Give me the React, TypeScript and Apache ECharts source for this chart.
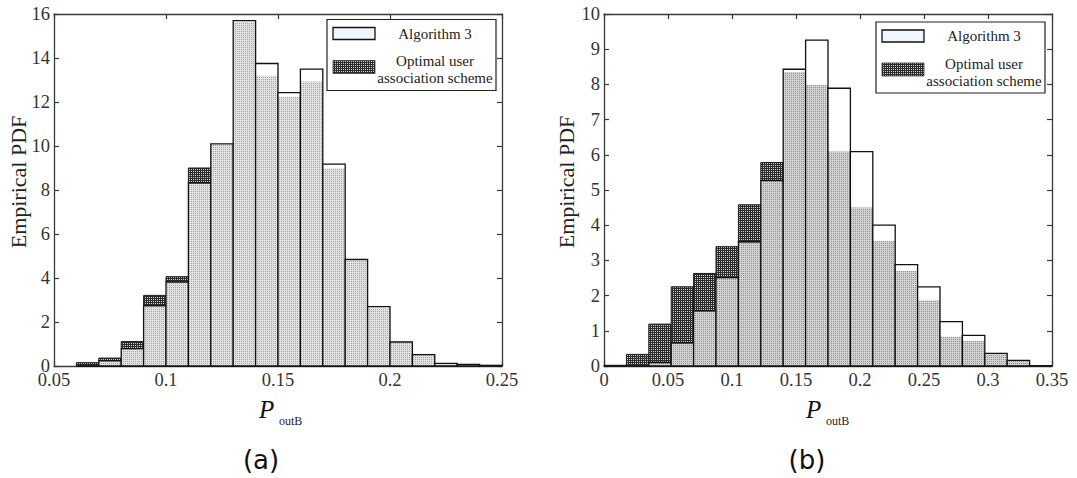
import React, { useEffect, useRef } from "react";
import * as echarts from "echarts";

// Panel (a): bins of width 0.01 starting at 0.06
const binWidthA = 0.01;
const binStartsA = [0.06, 0.07, 0.08, 0.09, 0.1, 0.11, 0.12, 0.13, 0.14, 0.15, 0.16, 0.17, 0.18, 0.19, 0.2, 0.21, 0.22, 0.23, 0.24];
const algorithm3A = [0.0, 0.24, 0.79, 2.74, 3.82, 8.32, 10.1, 15.7, 13.75, 12.43, 13.49, 9.18, 4.84, 2.7, 1.09, 0.52, 0.12, 0.07, 0.03];
const optimalA = [0.15, 0.36, 1.11, 3.21, 4.06, 9.0, 10.05, 15.65, 13.2, 12.23, 12.94, 8.99, 4.78, 2.66, 1.06, 0.5, 0.11, 0.06, 0.02];

// Panel (b): bins of width 0.0175 starting at 0
const binWidthB = 0.0175;
const binStartsB = [0, 0.0175, 0.035, 0.0525, 0.07, 0.0875, 0.105, 0.1225, 0.14, 0.1575, 0.175, 0.1925, 0.21, 0.2275, 0.245, 0.2625, 0.28, 0.2975, 0.315, 0.3325];
const algorithm3B = [0.0, 0.0, 0.1, 0.66, 1.57, 2.51, 3.53, 5.27, 8.43, 9.26, 7.89, 6.09, 4.0, 2.88, 2.25, 1.26, 0.87, 0.36, 0.16, 0.01];
const optimalB = [0.02, 0.33, 1.19, 2.25, 2.63, 3.39, 4.58, 5.78, 8.36, 7.99, 6.1, 4.51, 3.55, 2.7, 1.87, 0.84, 0.71, 0.34, 0.15, 0.01];

const xRangeA = { min: 0.05, max: 0.25, interval: 0.05 };
const yRangeA = { min: 0, max: 16, interval: 2 };
const xRangeB = { min: 0, max: 0.35, interval: 0.05 };
const yRangeB = { min: 0, max: 10, interval: 1 };

const legendLabels = ["Algorithm 3", "Optimal user", "association scheme"];
const yName = "Empirical PDF";

const SERIF = "Liberation Serif";
const AXIS_COLOR = "#3a3a3a";

function makeTile(pixels: string[][]): HTMLCanvasElement {
  const c = document.createElement("canvas");
  c.height = pixels.length;
  c.width = pixels[0].length;
  const ctx = c.getContext("2d")!;
  pixels.forEach((row, j) =>
    row.forEach((col, i) => {
      ctx.fillStyle = col;
      ctx.fillRect(i, j, 1, 1);
    })
  );
  return c;
}

function buildRows(starts: number[], width: number, a: number[], o: number[]) {
  return starts.map((s, i) => [s, s + width, a[i], o[i]]);
}

export default function App() {
  const ref = useRef<HTMLDivElement>(null);

  useEffect(() => {
    if (!ref.current) return;
    const chart = echarts.init(ref.current, undefined, { renderer: "svg" });

    const lightA = { image: makeTile([["#e2e2e2", "#e2e2e2"], ["#e2e2e2", "#a4a4a4"]]), repeat: "repeat" };
    const lightB = { image: makeTile([["#d2d2d2", "#d2d2d2"], ["#d2d2d2", "#909090"]]), repeat: "repeat" };
    const dark = { image: makeTile([["#2c2c2c", "#2c2c2c"], ["#2c2c2c", "#cfcfcf"]]), repeat: "repeat" };

    const makeRender = (light: any) => (_params: any, api: any) => {
      const x0 = api.value(0);
      const x1 = api.value(1);
      const a = api.value(2);
      const o = api.value(3);
      const lo = Math.min(a, o);
      const b0 = api.coord([x0, 0]);
      const b1 = api.coord([x1, 0]);
      const left = b0[0];
      const w = b1[0] - b0[0];
      const y0 = b0[1];
      const yA = api.coord([x0, a])[1];
      const yO = api.coord([x0, o])[1];
      const yLo = api.coord([x0, lo])[1];
      const children: any[] = [];
      if (lo > 0) {
        children.push({ type: "rect", shape: { x: left, y: yLo, width: w, height: y0 - yLo }, style: { fill: light } });
      }
      if (o > a) {
        children.push({
          type: "rect",
          shape: { x: left, y: yO, width: w, height: yA - yO },
          style: { fill: dark, stroke: "#1a1a1a", lineWidth: 1 },
        });
      }
      if (a > o) {
        children.push({ type: "rect", shape: { x: left, y: yA, width: w, height: yO - yA }, style: { fill: "#ffffff" } });
      }
      children.push({
        type: "rect",
        shape: { x: left, y: yA, width: w, height: y0 - yA },
        style: { fill: "none", stroke: "#111111", lineWidth: 1.3 },
      });
      return { type: "group", children };
    };

    const line = { show: true, onZero: false, lineStyle: { color: AXIS_COLOR, width: 1.3 } };
    const tick = { show: true, inside: true, length: 5, lineStyle: { color: AXIS_COLOR, width: 1.2 } };

    const xAxisPair = (grid: number, r: any) => [
      {
        gridIndex: grid,
        type: "value",
        position: "bottom",
        ...r,
        axisLine: line,
        axisTick: tick,
        axisLabel: { fontFamily: SERIF, fontSize: 18.5, lineHeight: 16, color: "#333", margin: 6 },
        splitLine: { show: false },
      },
      {
        gridIndex: grid,
        type: "value",
        position: "top",
        ...r,
        axisLine: line,
        axisTick: tick,
        axisLabel: { show: false },
        splitLine: { show: false },
      },
    ];
    const yAxisPair = (grid: number, r: any) => [
      {
        gridIndex: grid,
        type: "value",
        position: "left",
        ...r,
        axisLine: line,
        axisTick: tick,
        axisLabel: { fontFamily: SERIF, fontSize: 18.5, lineHeight: 12, color: "#333", margin: 4 },
        splitLine: { show: false },
      },
      {
        gridIndex: grid,
        type: "value",
        position: "right",
        ...r,
        axisLine: line,
        axisTick: tick,
        axisLabel: { show: false },
        splitLine: { show: false },
      },
    ];

    const text = (x: number, y: number, t: string, size: number, extra: any = {}, el: any = {}) => ({
      type: "text",
      x,
      y,
      ...el,
      style: { text: t, fontFamily: SERIF, fontSize: size, fill: "#222", align: "center", verticalAlign: "middle", ...extra },
    });

    const legend = (x: number, y: number) => [
      { type: "rect", shape: { x, y, width: 169, height: 71 }, style: { fill: "#fff", stroke: "#222", lineWidth: 1.2 } },
      { type: "rect", shape: { x: x + 6, y: y + 8, width: 42, height: 12 }, style: { fill: "#f0f7fc", stroke: "#111", lineWidth: 1.3 } },
      { type: "rect", shape: { x: x + 6, y: y + 41, width: 42, height: 13 }, style: { fill: dark, stroke: "#333", lineWidth: 0.8 } },
      text(x + 108, y + 14, legendLabels[0], 15),
      text(x + 108, y + 41.5, legendLabels[1], 15),
      text(x + 108, y + 58.5, legendLabels[2], 15),
    ];

    const pLabel = (x: number) => [
      text(x, 409.5, "P", 25, { fontStyle: "italic", align: "left", fill: "#111" }),
      text(x + 20, 420.5, "outB", 12, { align: "left" }),
    ];

    chart.setOption({
      animation: false,
      grid: [
        { left: 54, top: 14, width: 448, height: 352 },
        { left: 604, top: 14, width: 448, height: 352 },
      ],
      xAxis: [...xAxisPair(0, xRangeA), ...xAxisPair(1, xRangeB)],
      yAxis: [...yAxisPair(0, yRangeA), ...yAxisPair(1, yRangeB)],
      series: [
        {
          type: "custom",
          xAxisIndex: 0,
          yAxisIndex: 0,
          data: buildRows(binStartsA, binWidthA, algorithm3A, optimalA),
          renderItem: makeRender(lightA),
          clip: false,
        },
        {
          type: "custom",
          xAxisIndex: 2,
          yAxisIndex: 2,
          data: buildRows(binStartsB, binWidthB, algorithm3B, optimalB),
          renderItem: makeRender(lightB),
          clip: false,
        },
      ],
      graphic: [
        ...legend(327, 19.5),
        ...legend(876, 22),
        text(18, 182, yName, 22, {}, { rotation: Math.PI / 2 }),
        text(566, 182, yName, 22, {}, { rotation: Math.PI / 2 }),
        ...pLabel(259),
        ...pLabel(806),
        text(261, 460, "(a)", 26, { fontFamily: "DejaVu Sans", fill: "#111" }),
        text(807, 460, "(b)", 26, { fontFamily: "DejaVu Sans", fill: "#111" }),
      ],
    });

    return () => chart.dispose();
  }, []);

  return <div ref={ref} style={{ position: "absolute", left: 0, top: 0, width: 1077, height: 478, background: "#fff" }} />;
}
